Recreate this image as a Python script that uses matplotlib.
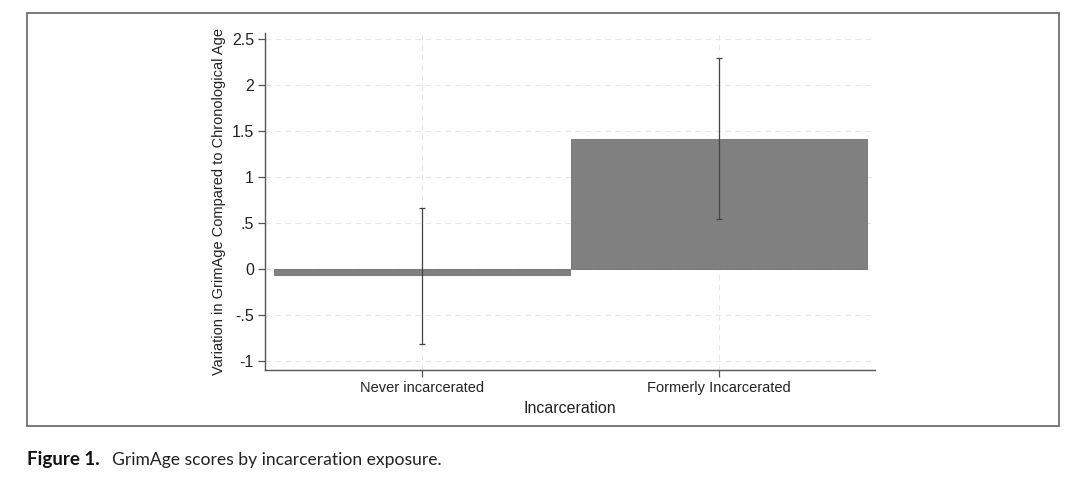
import matplotlib.pyplot as plt
from matplotlib.patches import Rectangle

# values
groups = ['Never incarcerated', 'Formerly Incarcerated']
means = [-0.07, 1.42]
ci_low = [-0.82, 0.54]
ci_high = [0.66, 2.30]
yticks = [-1, -0.5, 0, 0.5, 1, 1.5, 2, 2.5]
ytick_labels = ['-1', '-.5', '0', '.5', '1', '1.5', '2', '2.5']

plt.rcParams['font.family'] = ['Liberation Sans', 'DejaVu Sans']

W, H = 1089, 491
fig = plt.figure(figsize=(W / 100, H / 100), dpi=100)
fig.patch.set_facecolor('white')

# outer frame around the graph panel
fig.patches.append(Rectangle((27 / W, 1 - 426 / H), (1059 - 27) / W, (426 - 13) / H,
                             transform=fig.transFigure, fill=False,
                             edgecolor='#6e6e6e', linewidth=1.3))

ax = fig.add_axes([265 / W, 1 - 370 / H, (875 - 265) / W, (370 - 33) / H])
x = list(range(len(groups)))
ax.bar(x, means, width=0.995, color='#808080', edgecolor='#6f6f6f', linewidth=0.6, zorder=2)
lower = [m - lo for m, lo in zip(means, ci_low)]
upper = [hi - m for m, hi in zip(means, ci_high)]
ax.errorbar(x, means, yerr=[lower, upper], fmt='none', ecolor='#444444',
            elinewidth=0.9, capsize=2.5, capthick=0.9, zorder=3)

ax.set_xlim(-0.529, 1.525)
ax.set_ylim(-1.1, 2.57)
ax.set_yticks(yticks)
ax.set_yticklabels(ytick_labels, fontsize=11.5)
ax.set_xticks(x)
ax.set_xticklabels(groups, fontsize=10.5)

for y in yticks:
    ax.axhline(y, color='#e6e6e6', linestyle=(0, (5, 4)), linewidth=0.8, zorder=1)
for xi in x:
    ax.axvline(xi, color='#e6e6e6', linestyle=(0, (5, 4)), linewidth=0.8, zorder=1)

for s in ['top', 'right']:
    ax.spines[s].set_visible(False)
for s in ['left', 'bottom']:
    ax.spines[s].set_color('#555555')
    ax.spines[s].set_linewidth(1.0)
ax.tick_params(colors='#555555', length=5, width=0.9, labelcolor='#222222', pad=3)

ax.set_xlabel('Incarceration', fontsize=11.5, color='#222222', labelpad=4)
ax.set_ylabel('Variation in GrimAge Compared to Chronological Age',
              fontsize=10.5, color='#222222', labelpad=4)

# caption below the panel
fig.text(27 / W, 1 - 460 / H, 'Figure 1.', family='Lato', fontweight='bold',
         fontsize=13.5, va='center', ha='left', color='#111111')
fig.text(112 / W, 1 - 460 / H, 'GrimAge scores by incarceration exposure.',
         family='Lato', fontsize=12.6, va='center', ha='left', color='#222222')

fig.savefig('out.png', dpi=100, facecolor='white')
